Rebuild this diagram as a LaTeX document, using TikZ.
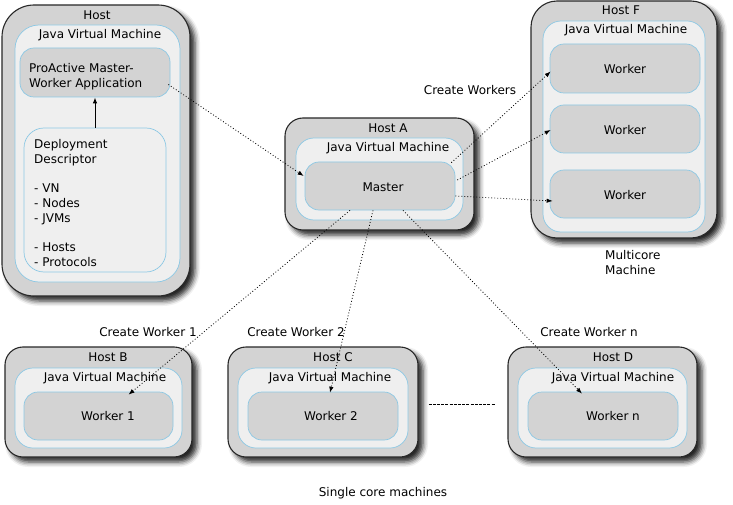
\documentclass[tikz,border=0pt]{standalone}
\usepackage{fontspec}
\setmainfont{DejaVu Sans}
\usetikzlibrary{arrows.meta,shadows.blur,calc}
\definecolor{hostgray}{RGB}{211,211,211}
\definecolor{jvmfill}{RGB}{239,239,239}
\definecolor{jvmblue}{RGB}{140,200,228}
\definecolor{hostline}{RGB}{40,40,40}
\begin{document}
\begin{tikzpicture}[x=1pt,y=-1pt,
  every node/.style={font=\fontsize{12}{14.8}\selectfont},
  hostbox/.style={draw=hostline,line width=1.1pt,fill=hostgray,rectangle,inner sep=0,
     blur shadow={shadow xshift=5pt,shadow yshift=-5pt,shadow blur radius=5pt,shadow opacity=85}},
  jvmbox/.style={draw=jvmblue,line width=0.7pt,fill=jvmfill,rectangle,inner sep=0},
  innerbox/.style={draw=jvmblue,line width=0.7pt,fill=hostgray,rectangle,inner sep=0,rounded corners=14pt},
  txt/.style={inner sep=0,text=black},
  callarrow/.style={line width=0.8pt,dash pattern=on 0.9pt off 2.1pt,-{Latex[length=6pt,width=4.5pt]}},
]
\useasboundingbox (0,0) rectangle (733,505);
% ---------- Left host ----------
\node[hostbox,rounded corners=32pt,minimum width=188,minimum height=291] (hL) at (96,150.5) {};
\node[jvmbox,rounded corners=24pt,minimum width=165,minimum height=257] (jL) at (97.5,153.5) {};
\node[txt] (hLt) at (97,15) {Host};
\node[txt] (jLt) at (100,35) {Java Virtual Machine};
\node[innerbox,minimum width=150,minimum height=49] (pa) at (95,72.5) {};
\node[txt,align=left,anchor=west] (pat) at (29,76.5) {ProActive Master-\\Worker Application};
\node[jvmbox,rounded corners=20pt,minimum width=142,minimum height=144] (dd) at (95,200) {};
\node[txt,align=left,anchor=north west] (ddt) at (34,139) {Deployment\\Descriptor\\[14.8pt]- VN\\- Nodes\\- JVMs\\[14.8pt]- Hosts\\- Protocols};
\draw[line width=1pt,-{Latex[length=6pt,width=4.5pt]}] (dd.north) -- (pa.south);
% ---------- Host A ----------
\node[hostbox,rounded corners=18pt,minimum width=189,minimum height=112] (hA) at (379.5,174) {};
\node[jvmbox,rounded corners=18pt,minimum width=167,minimum height=82] (jA) at (379.5,179) {};
\node[txt] (hAt) at (388,128) {Host A};
\node[txt] (jAt) at (388,148) {Java Virtual Machine};
\node[innerbox,minimum width=150,minimum height=48] (master) at (380,186) {};
\node[txt] (mt) at (383,187) {Master};
% ---------- Host F ----------
\node[hostbox,rounded corners=26pt,minimum width=186,minimum height=237] (hF) at (624,119.5) {};
\node[jvmbox,rounded corners=18pt,minimum width=162,minimum height=211] (jF) at (624,126.5) {};
\node[txt] (hFt) at (621,10) {Host F};
\node[txt] (jFt) at (626,30) {Java Virtual Machine};
\node[innerbox,minimum width=150,minimum height=49] (w1) at (625,68.5) {};
\node[txt] (w1t) at (625,69) {Worker};
\node[innerbox,minimum width=150,minimum height=48] (w2) at (625,129) {};
\node[txt] (w2t) at (625,130) {Worker};
\node[innerbox,minimum width=150,minimum height=48] (w3) at (625,194) {};
\node[txt] (w3t) at (625,195) {Worker};
\node[txt,align=left,anchor=north west] (mc) at (605,250) {Multicore\\Machine};
% ---------- Host B ----------
\node[hostbox,rounded corners=18pt,minimum width=187,minimum height=110] (hB) at (98.5,402) {};
\node[jvmbox,rounded corners=18pt,minimum width=167,minimum height=80] (jB) at (98.5,408) {};
\node[txt] (hBt) at (108,357) {Host B};
\node[txt] (jBt) at (105,378) {Java Virtual Machine};
\node[innerbox,minimum width=149,minimum height=48] (wk1) at (98.5,416) {};
\node[txt] (wk1t) at (108,416) {Worker 1};
% ---------- Host C ----------
\node[hostbox,rounded corners=18pt,minimum width=190,minimum height=110] (hC) at (323,402) {};
\node[jvmbox,rounded corners=18pt,minimum width=170,minimum height=80] (jC) at (323,408) {};
\node[txt] (hCt) at (333,357) {Host C};
\node[txt] (jCt) at (330,378) {Java Virtual Machine};
\node[innerbox,minimum width=150,minimum height=48] (wk2) at (323,416) {};
\node[txt] (wk2t) at (331,416) {Worker 2};
% ---------- Host D ----------
\node[hostbox,rounded corners=18pt,minimum width=189,minimum height=110] (hD) at (602.5,402) {};
\node[jvmbox,rounded corners=18pt,minimum width=169,minimum height=80] (jD) at (602.5,408) {};
\node[txt] (hDt) at (613,357) {Host D};
\node[txt] (jDt) at (613,378) {Java Virtual Machine};
\node[innerbox,minimum width=150,minimum height=48] (wkn) at (603,416) {};
\node[txt] (wknt) at (613,416) {Worker n};
% ---------- labels ----------
\node[txt] (lcw) at (470,90) {Create Workers};
\node[txt] (lc1) at (148,332) {Create Worker 1};
\node[txt] (lc2) at (296,332) {Create Worker 2};
\node[txt] (lcn) at (589,332) {Create Worker n};
\node[txt] (lsc) at (383,493) {Single core machines};
% ---------- connectors ----------
\draw[callarrow] ($(pa.east)+(-2,12)$) -- ($(master.west)+(-1,-10)$);
\draw[callarrow] ($(master.north east)+(-4,1)$) -- ($(w1.west)+(1,3)$);
\draw[callarrow] ($(master.east)+(2,-6)$) -- ($(w2.west)+(1,1)$);
\draw[callarrow] ($(master.east)+(0,10)$) -- ($(w3.west)+(3,7)$);
\draw[callarrow] ($(master.south)+(-30,0)$) -- ($(wk1.north)+(30,3)$);
\draw[callarrow] ($(master.south)+(-7,0)$) -- ($(wk2.north)+(7,1)$);
\draw[callarrow] ($(master.south)+(23,0)$) -- ($(wkn.north)+(-21,2)$);
\draw[line width=1pt,dash pattern=on 3pt off 1.2pt] ($(hC.east)+(10,2)$) -- ($(hD.west)+(-12,2)$);
\end{tikzpicture}
\end{document}
